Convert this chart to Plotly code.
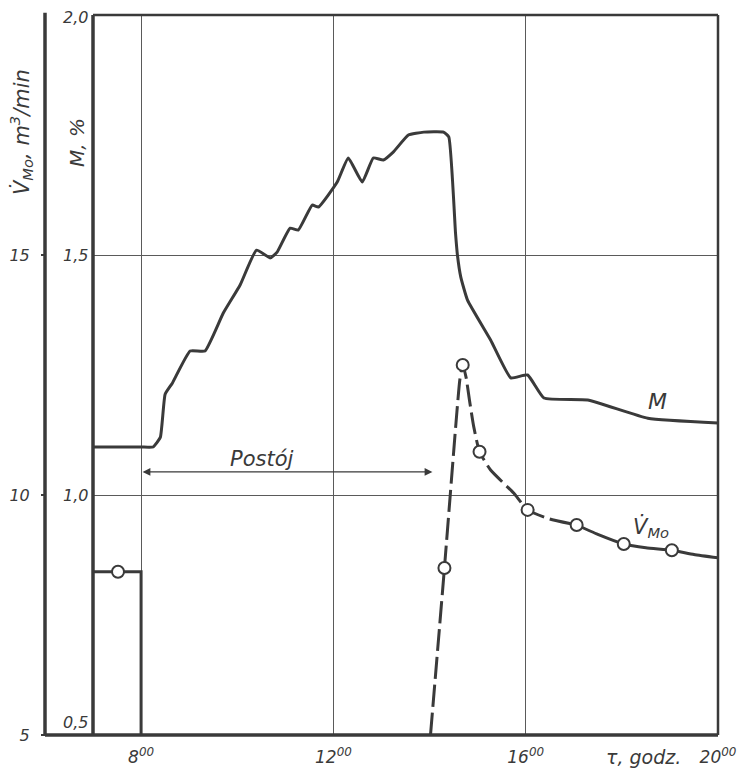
import plotly.graph_objects as go

# ---------------- data ----------------
m_hours = [7.0, 8.0, 8.25, 8.4, 8.5, 8.65, 9.02, 9.33, 9.71, 10.06, 10.4, 10.69, 10.83,
           11.1, 11.27, 11.56, 11.69, 12.08, 12.31, 12.6, 12.83, 13.04, 13.25, 13.56,
           13.88, 14.29, 14.4, 14.54, 14.58, 14.65, 14.79, 15.27, 15.69, 16.04, 16.38,
           17.29, 18.54, 20.0]
m_values = [1.10, 1.10, 1.10, 1.12, 1.21, 1.233, 1.30, 1.30, 1.379, 1.4375, 1.51, 1.494,
            1.506, 1.556, 1.552, 1.604, 1.60, 1.652, 1.702, 1.652, 1.702, 1.698, 1.715,
            1.75, 1.756, 1.756, 1.746, 1.546, 1.50, 1.454, 1.406, 1.323, 1.244, 1.25,
            1.202, 1.198, 1.16, 1.15]

v_before_hours = [7.0, 8.0, 8.0]
v_before_values = [8.4, 8.4, 5.0]

v_dash_hours = [14.02, 14.31, 14.55, 14.63, 14.69, 14.76, 14.83, 14.92, 15.04, 15.27,
                15.75, 16.04, 16.5, 17.06]
v_dash_values = [5.0, 8.48, 11.5, 12.4, 12.71, 12.45, 11.98, 11.42, 10.9, 10.52,
                 10.04, 9.69, 9.5, 9.375]

v_solid_hours = [17.06, 17.5, 18.04, 18.5, 19.04, 19.5, 20.0]
v_solid_values = [9.375, 9.18, 8.98, 8.9, 8.85, 8.76, 8.69]

v_marker_hours = [7.52, 14.31, 14.69, 15.04, 16.04, 17.06, 18.04, 19.04]
v_marker_values = [8.4, 8.48, 12.71, 10.9, 9.69, 9.375, 8.98, 8.85]

x_tick_vals = [8, 12, 16, 20]
x_tick_text = ["8<sup>00</sup>", "12<sup>00</sup>", "16<sup>00</sup>", "20<sup>00</sup>"]
m_tick_vals = [2.0, 1.5, 1.0, 0.5]
m_tick_text = ["2,0", "1,5", "1,0", "0,5"]
v_tick_vals = [5, 10, 15]
v_tick_text = ["5", "10", "15"]

postoj_start, postoj_end, postoj_level = 8.0, 14.06, 1.048

# ---------------- styling ----------------
INK = "#3a3a3a"
GRID = "#5a5a5a"
FONT = "DejaVu Sans, Liberation Sans, sans-serif"

W, H = 744, 774
ML, MR, MT, MB = 45, 26, 15, 39
plot_w = W - ML - MR
plot_h = H - MT - MB
x_dom_start = (93 - ML) / plot_w

def px_x(p):
    return (p - ML) / plot_w

def px_y(p):
    return (H - MB - p) / plot_h

fig = go.Figure()

fig.add_trace(go.Scatter(x=m_hours, y=m_values, mode="lines", yaxis="y",
                         line=dict(color=INK, width=3, shape="spline", smoothing=0.4),
                         showlegend=False, hoverinfo="skip"))
fig.add_trace(go.Scatter(x=v_before_hours, y=v_before_values, mode="lines", yaxis="y2",
                         line=dict(color=INK, width=3), showlegend=False))
fig.add_trace(go.Scatter(x=v_dash_hours, y=v_dash_values, mode="lines", yaxis="y2",
                         line=dict(color=INK, width=3, dash="22px,6px", shape="spline",
                                   smoothing=0.5),
                         showlegend=False))
fig.add_trace(go.Scatter(x=v_solid_hours, y=v_solid_values, mode="lines", yaxis="y2",
                         line=dict(color=INK, width=3, shape="spline", smoothing=0.5),
                         showlegend=False))
fig.add_trace(go.Scatter(x=v_marker_hours, y=v_marker_values, mode="markers", yaxis="y2",
                         marker=dict(symbol="circle", size=12, color="white",
                                     line=dict(color=INK, width=2)),
                         showlegend=False))

fig.update_layout(
    width=W, height=H,
    margin=dict(l=ML, r=MR, t=MT, b=MB, pad=0, autoexpand=False),
    paper_bgcolor="white", plot_bgcolor="white",
    font=dict(family=FONT, color=INK),
    xaxis=dict(domain=[x_dom_start, 1], range=[7, 20], tickvals=x_tick_vals,
               ticktext=["<i>%s</i>" % t for t in x_tick_text], automargin=False,
               showgrid=True, gridcolor=GRID, gridwidth=1.3, zeroline=False,
               showline=False, ticks="", tickfont=dict(size=17, color=INK, family=FONT),
               ticklabelstandoff=10),
    yaxis=dict(range=[0.5, 2.0], anchor="free", position=x_dom_start, automargin=False,
               tickvals=m_tick_vals, showticklabels=False, ticks="",
               showgrid=True, gridcolor=GRID, gridwidth=1.3, zeroline=False,
               showline=False),
    yaxis2=dict(range=[5, 20], overlaying="y", anchor="free", position=0, side="left",
                automargin=False,
                tickvals=v_tick_vals, ticktext=["<i>%s</i>" % t for t in v_tick_text],
                ticks="outside", ticklen=4, tickwidth=1.5, tickcolor=INK,
                tickfont=dict(size=16, color=INK, family=FONT), ticklabelstandoff=8,
                showgrid=False, zeroline=False, showline=False),
)

shapes = []
# frame lines
shapes.append(dict(type="line", xref="paper", yref="paper", x0=0, x1=0, y0=0, y1=1.003,
                   line=dict(color=INK, width=3.5)))
shapes.append(dict(type="line", xref="paper", yref="paper", x0=x_dom_start, x1=x_dom_start,
                   y0=0, y1=1, line=dict(color=INK, width=3.5)))
shapes.append(dict(type="line", xref="paper", yref="paper", x0=1, x1=1, y0=0, y1=1,
                   line=dict(color=INK, width=2.5)))
shapes.append(dict(type="line", xref="paper", yref="paper", x0=x_dom_start, x1=1, y0=1, y1=1,
                   line=dict(color=INK, width=2.5)))
shapes.append(dict(type="line", xref="paper", yref="paper", x0=0, x1=1, y0=0, y1=0,
                   line=dict(color=INK, width=3.5)))
fig.update_layout(shapes=shapes)

ann = []
# M tick labels
for v, t in zip(m_tick_vals, m_tick_text):
    ann.append(dict(x=px_x(75), xref="paper", y=v, yref="y", text="<i>%s</i>" % t,
                    showarrow=False, xanchor="center",
                    yanchor="bottom" if v == 0.5 else "middle",
                    yshift=1 if v == 0.5 else (-2 if v == 2.0 else 0),
                    font=dict(size=16, color=INK, family=FONT)))
# axis titles
ann.append(dict(x=px_x(21), xref="paper", y=px_y(132), yref="paper",
                xanchor="center", yanchor="middle",
                text="<i>V\u0307<sub>Mo</sub>, m<sup>3</sup>/min</i>", textangle=-90,
                showarrow=False, font=dict(size=21, color=INK, family=FONT)))
ann.append(dict(x=px_x(77), xref="paper", y=px_y(143), yref="paper",
                xanchor="center", yanchor="middle",
                text="<i>M, %</i>", textangle=-90,
                showarrow=False, font=dict(size=20, color=INK, family=FONT)))
ann.append(dict(x=18.45, xref="x", y=px_y(757), yref="paper", text="<i>\u03c4, godz.</i>",
                xanchor="center", yanchor="middle",
                showarrow=False, font=dict(size=19, color=INK, family=FONT)))
# Postój arrow
ann.append(dict(x=postoj_end, y=postoj_level, xref="x", yref="y",
                ax=postoj_start, ay=postoj_level, axref="x", ayref="y",
                text="", showarrow=True, arrowside="end+start", arrowhead=2,
                arrowsize=1.2, arrowwidth=1.3, arrowcolor=INK))
ann.append(dict(x=10.52, y=1.075, xref="x", yref="y", text="<i>Postój</i>",
                showarrow=False, font=dict(size=21, color=INK, family=FONT)))
# series labels
ann.append(dict(x=18.75, y=1.194, xref="x", yref="y", text="<i>M</i>",
                showarrow=False, font=dict(size=22, color=INK, family=FONT)))
ann.append(dict(x=18.6, y=9.33, xref="x", yref="y2",
                text="<i>V\u0307<sub>Mo</sub></i>",
                showarrow=False, font=dict(size=21, color=INK, family=FONT)))
fig.update_layout(annotations=ann)

fig.write_html("out.html")
